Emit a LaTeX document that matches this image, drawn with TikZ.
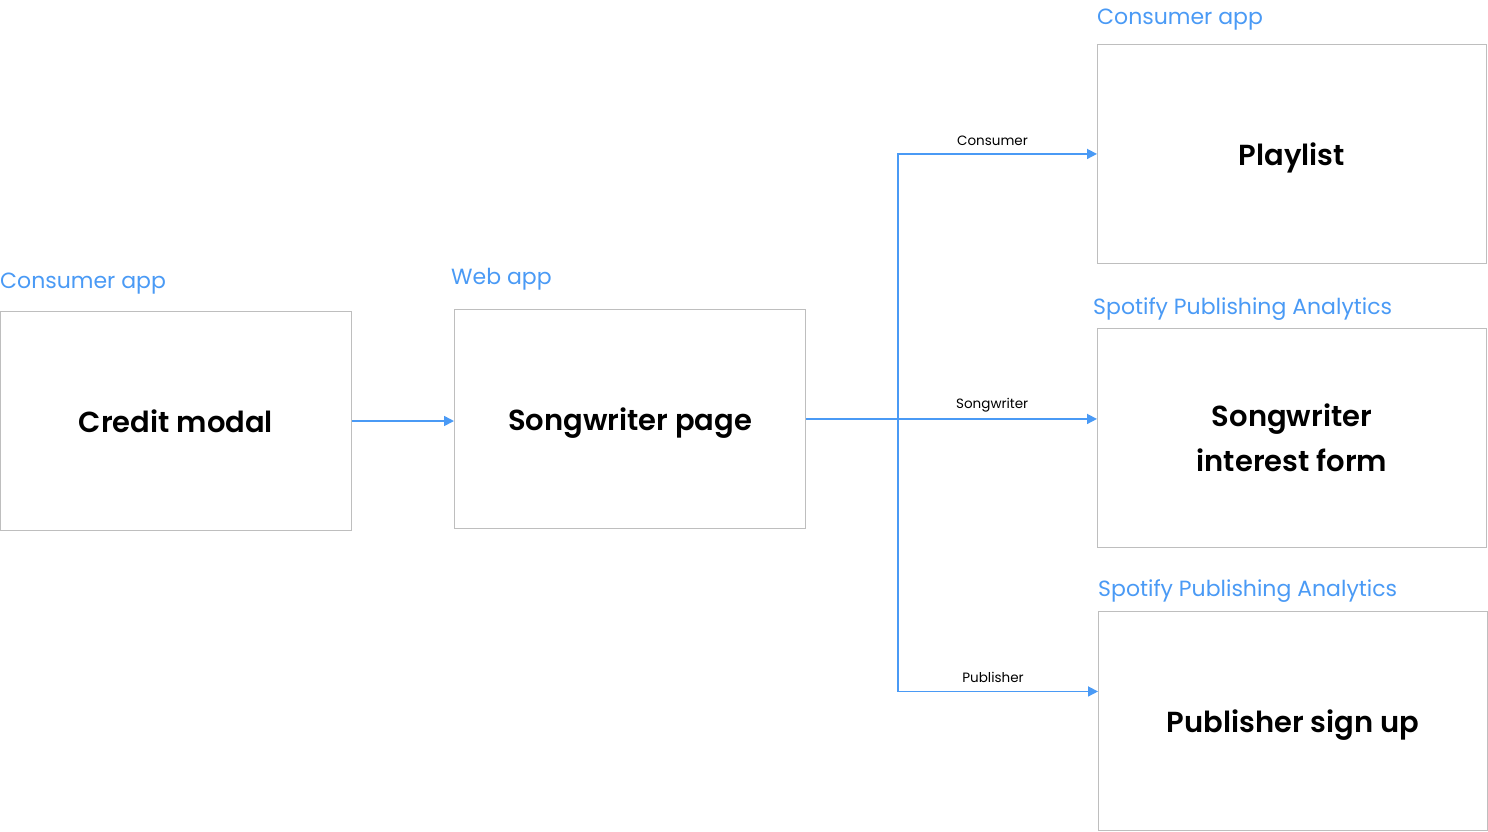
\documentclass[tikz,border=0pt]{standalone}
\usepackage{fontspec}
\setmainfont{Poppins}[BoldFont={Poppins SemiBold}]
\usetikzlibrary{arrows.meta}
\definecolor{lblue}{RGB}{74,154,245}
\definecolor{bgray}{RGB}{190,190,190}
\tikzset{
  box/.style={draw=bgray, line width=0.9pt, rectangle, anchor=north west,
    minimum width=#1, minimum height=219pt, inner sep=0pt, text depth=0pt,
    font=\fontsize{29}{45}\selectfont\bfseries, align=center, text=black},
  cat/.style={anchor=west, inner sep=0pt, text=lblue, font=\fontsize{22}{24}\selectfont},
  arr/.style={draw=lblue, line width=1.6pt, -{Triangle[length=10pt,width=10pt]}},
  elab/.style={font=\fontsize{13.5}{15}\selectfont, text=black, inner sep=0pt, above=#1},
  elab/.default=8pt
}
\begin{document}
\begin{tikzpicture}[x=1pt,y=-1pt]
\useasboundingbox (0,0) rectangle (1488,831);
\node[box=351pt] (cm) at (0,311) {Credit modal};
\node[box=351pt] (sp) at (454,309) {Songwriter page};
\node[box=389pt] (pl) at (1097,44) {Playlist};
\node[box=389pt] (sif) at (1097,328) {Songwriter\\interest form};
\node[box=389pt] (psu) at (1098,611) {Publisher sign up};

\node[cat] (l1) at (0,284) {Consumer app};
\node[cat] (l2) at (451,279) {Web app};
\node[cat] (l3) at (1097,20) {Consumer app};
\node[cat] (l4) at (1093,309) {Spotify Publishing Analytics};
\node[cat] (l5) at (1098,591) {Spotify Publishing Analytics};

\coordinate (j) at (898,418.5);
\draw[arr] (cm.east |- 0,421) -- (sp.west |- 0,421);
\draw[arr] (sp.east) -- (sif.west |- sp.east) node[elab=6pt, pos=0.64] (e2) {Songwriter};
\draw[arr] (j) |- (pl.west) node[elab, pos=0.75, xshift=-5pt] (e1) {Consumer};
\draw[arr] (j) |- ([yshift=29.5pt]psu.west) node[elab, pos=0.75, xshift=-5pt] (e3) {Publisher};
\end{tikzpicture}
\end{document}
